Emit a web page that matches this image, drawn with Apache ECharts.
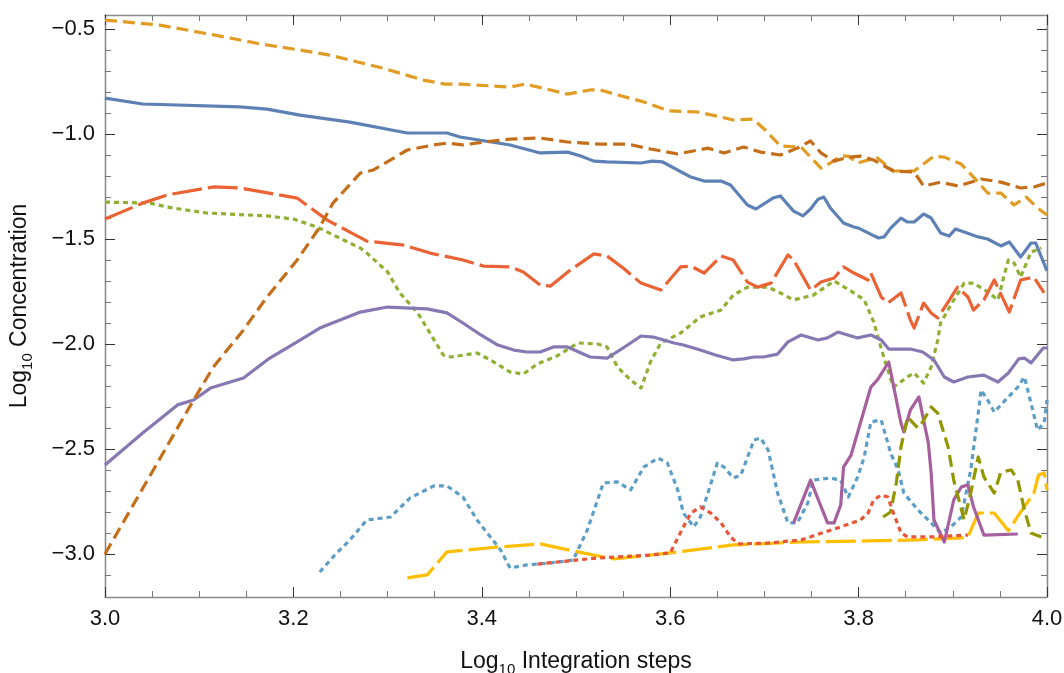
<!DOCTYPE html>
<html>
<head>
<meta charset="utf-8">
<title>Concentration vs integration steps</title>
<script src="https://cdn.jsdelivr.net/npm/echarts@6/dist/echarts.min.js"></script>
<style>
  html, body { margin: 0; padding: 0; background: #fff; }
  #chart { width: 1064px; height: 673px; }
</style>
</head>
<body>
<div id="chart"></div>
<script>
// log10(steps), log10(concentration) pairs for each species
const blueSolid = [[3.000,-0.829],[3.040,-0.857],[3.143,-0.871],[3.172,-0.881],[3.207,-0.910],[3.260,-0.943],[3.321,-0.995],[3.363,-0.995],[3.377,-1.014],[3.430,-1.052],[3.462,-1.090],[3.491,-1.086],[3.505,-1.105],[3.519,-1.129],[3.533,-1.133],[3.569,-1.138],[3.581,-1.129],[3.592,-1.133],[3.622,-1.205],[3.636,-1.224],[3.654,-1.224],[3.664,-1.243],[3.682,-1.338],[3.691,-1.357],[3.709,-1.305],[3.717,-1.295],[3.731,-1.367],[3.741,-1.390],[3.749,-1.357],[3.757,-1.310],[3.763,-1.300],[3.770,-1.352],[3.784,-1.424],[3.795,-1.443],[3.800,-1.448],[3.810,-1.471],[3.821,-1.495],[3.827,-1.490],[3.834,-1.448],[3.845,-1.400],[3.852,-1.419],[3.859,-1.419],[3.869,-1.381],[3.877,-1.400],[3.887,-1.471],[3.896,-1.486],[3.903,-1.452],[3.912,-1.467],[3.927,-1.490],[3.937,-1.500],[3.951,-1.533],[3.960,-1.514],[3.972,-1.586],[3.983,-1.519],[3.988,-1.519],[4.000,-1.652]];

const orangeDashed = [[3.000,-0.457],[3.058,-0.481],[3.117,-0.529],[3.165,-0.571],[3.207,-0.600],[3.239,-0.624],[3.260,-0.648],[3.295,-0.686],[3.313,-0.710],[3.338,-0.743],[3.361,-0.762],[3.377,-0.762],[3.430,-0.776],[3.446,-0.762],[3.473,-0.790],[3.491,-0.810],[3.515,-0.790],[3.526,-0.790],[3.544,-0.814],[3.569,-0.843],[3.590,-0.876],[3.600,-0.890],[3.629,-0.895],[3.654,-0.919],[3.667,-0.933],[3.688,-0.929],[3.701,-0.981],[3.717,-1.057],[3.739,-1.062],[3.760,-1.162],[3.770,-1.138],[3.781,-1.105],[3.789,-1.105],[3.799,-1.138],[3.810,-1.124],[3.820,-1.114],[3.837,-1.176],[3.859,-1.176],[3.880,-1.105],[3.891,-1.110],[3.909,-1.143],[3.922,-1.205],[3.937,-1.281],[3.951,-1.281],[3.965,-1.338],[3.978,-1.300],[3.990,-1.352],[4.000,-1.386]];

const greenDotted = [[3.000,-1.324],[3.048,-1.329],[3.066,-1.348],[3.108,-1.376],[3.172,-1.390],[3.200,-1.405],[3.225,-1.443],[3.271,-1.543],[3.278,-1.567],[3.300,-1.657],[3.313,-1.757],[3.332,-1.852],[3.345,-1.948],[3.359,-2.052],[3.367,-2.062],[3.395,-2.043],[3.409,-2.076],[3.430,-2.133],[3.444,-2.143],[3.459,-2.095],[3.480,-2.057],[3.502,-1.995],[3.523,-2.000],[3.533,-2.014],[3.544,-2.110],[3.558,-2.171],[3.569,-2.210],[3.579,-2.086],[3.590,-1.995],[3.611,-1.948],[3.632,-1.871],[3.654,-1.838],[3.667,-1.767],[3.682,-1.729],[3.704,-1.729],[3.717,-1.757],[3.731,-1.790],[3.752,-1.767],[3.774,-1.700],[3.792,-1.748],[3.806,-1.790],[3.816,-1.895],[3.827,-2.067],[3.837,-2.205],[3.852,-2.157],[3.859,-2.138],[3.869,-2.186],[3.877,-2.110],[3.884,-1.981],[3.887,-1.900],[3.898,-1.814],[3.912,-1.710],[3.922,-1.710],[3.937,-1.752],[3.948,-1.790],[3.954,-1.681],[3.959,-1.600],[3.965,-1.614],[3.972,-1.681],[3.983,-1.562],[3.994,-1.543]];

const redLongDash = [[3.000,-1.405],[3.040,-1.329],[3.066,-1.290],[3.115,-1.252],[3.143,-1.257],[3.204,-1.305],[3.236,-1.410],[3.260,-1.467],[3.278,-1.510],[3.317,-1.529],[3.345,-1.567],[3.380,-1.600],[3.402,-1.629],[3.430,-1.633],[3.444,-1.657],[3.462,-1.719],[3.473,-1.724],[3.494,-1.648],[3.519,-1.571],[3.533,-1.581],[3.550,-1.638],[3.569,-1.710],[3.590,-1.743],[3.611,-1.633],[3.622,-1.629],[3.636,-1.662],[3.654,-1.581],[3.667,-1.600],[3.682,-1.705],[3.693,-1.729],[3.707,-1.710],[3.725,-1.576],[3.731,-1.600],[3.749,-1.743],[3.760,-1.705],[3.774,-1.686],[3.784,-1.633],[3.795,-1.662],[3.810,-1.695],[3.813,-1.662],[3.824,-1.776],[3.831,-1.805],[3.845,-1.757],[3.855,-1.886],[3.859,-1.924],[3.869,-1.805],[3.877,-1.852],[3.884,-1.876],[3.895,-1.800],[3.905,-1.729],[3.916,-1.776],[3.922,-1.838],[3.933,-1.790],[3.944,-1.695],[3.960,-1.848],[3.972,-1.695],[3.986,-1.681],[3.997,-1.757]];

const purpleSolid = [[3.000,-2.576],[3.040,-2.424],[3.077,-2.290],[3.094,-2.267],[3.112,-2.210],[3.147,-2.162],[3.175,-2.067],[3.204,-1.990],[3.228,-1.924],[3.271,-1.848],[3.300,-1.824],[3.342,-1.833],[3.363,-1.852],[3.380,-1.900],[3.399,-1.957],[3.417,-2.005],[3.434,-2.029],[3.448,-2.038],[3.462,-2.038],[3.476,-2.014],[3.491,-2.014],[3.515,-2.062],[3.533,-2.067],[3.550,-2.019],[3.569,-1.962],[3.582,-1.967],[3.604,-1.995],[3.614,-2.005],[3.632,-2.029],[3.648,-2.052],[3.667,-2.076],[3.678,-2.071],[3.689,-2.062],[3.699,-2.062],[3.714,-2.048],[3.725,-1.990],[3.739,-1.957],[3.757,-1.981],[3.767,-1.971],[3.778,-1.943],[3.799,-1.971],[3.813,-1.957],[3.824,-1.981],[3.832,-2.024],[3.855,-2.024],[3.868,-2.038],[3.880,-2.076],[3.891,-2.157],[3.901,-2.181],[3.916,-2.157],[3.933,-2.148],[3.948,-2.181],[3.959,-2.138],[3.970,-2.071],[3.976,-2.067],[3.983,-2.090],[3.996,-2.019],[4.000,-2.019]];

const brownDashed = [[3.000,-3.000],[3.094,-2.267],[3.115,-2.110],[3.147,-1.933],[3.172,-1.776],[3.204,-1.600],[3.228,-1.443],[3.242,-1.329],[3.271,-1.186],[3.285,-1.171],[3.321,-1.076],[3.349,-1.052],[3.363,-1.043],[3.380,-1.052],[3.402,-1.038],[3.430,-1.024],[3.462,-1.019],[3.491,-1.038],[3.526,-1.048],[3.555,-1.048],[3.579,-1.071],[3.608,-1.095],[3.640,-1.067],[3.657,-1.090],[3.678,-1.062],[3.696,-1.086],[3.717,-1.100],[3.735,-1.067],[3.749,-1.033],[3.760,-1.090],[3.774,-1.129],[3.789,-1.110],[3.802,-1.105],[3.816,-1.124],[3.837,-1.176],[3.859,-1.181],[3.869,-1.248],[3.887,-1.229],[3.906,-1.248],[3.930,-1.214],[3.951,-1.229],[3.972,-1.257],[3.986,-1.252],[4.000,-1.233]];

const skyDotted = [[3.228,-3.086],[3.244,-3.005],[3.260,-2.933],[3.278,-2.838],[3.303,-2.824],[3.324,-2.733],[3.349,-2.676],[3.363,-2.676],[3.380,-2.729],[3.395,-2.838],[3.409,-2.919],[3.420,-2.981],[3.430,-3.067],[3.448,-3.052],[3.473,-3.043],[3.497,-3.029],[3.512,-2.886],[3.529,-2.662],[3.544,-2.657],[3.558,-2.695],[3.572,-2.586],[3.587,-2.543],[3.597,-2.567],[3.608,-2.695],[3.614,-2.805],[3.625,-2.871],[3.632,-2.824],[3.640,-2.710],[3.650,-2.567],[3.657,-2.586],[3.667,-2.638],[3.675,-2.624],[3.689,-2.457],[3.696,-2.448],[3.704,-2.505],[3.714,-2.710],[3.725,-2.852],[3.735,-2.852],[3.746,-2.757],[3.752,-2.648],[3.770,-2.638],[3.781,-2.648],[3.789,-2.729],[3.799,-2.633],[3.806,-2.538],[3.813,-2.371],[3.824,-2.362],[3.834,-2.519],[3.842,-2.600],[3.848,-2.710],[3.863,-2.790],[3.877,-2.852],[3.887,-2.900],[3.898,-2.871],[3.909,-2.824],[3.919,-2.600],[3.927,-2.329],[3.930,-2.219],[3.937,-2.267],[3.944,-2.324],[3.954,-2.276],[3.969,-2.205],[3.976,-2.157],[3.983,-2.281],[3.990,-2.410],[3.997,-2.376],[4.000,-2.267]];

const yellowLongDash = [[3.321,-3.114],[3.342,-3.100],[3.363,-2.990],[3.417,-2.967],[3.462,-2.952],[3.502,-2.990],[3.540,-3.024],[3.600,-2.995],[3.667,-2.957],[3.739,-2.943],[3.810,-2.938],[3.863,-2.933],[3.909,-2.924],[3.916,-2.919],[3.927,-2.805],[3.944,-2.805],[3.959,-2.890],[3.972,-2.800],[3.986,-2.710],[3.991,-2.624],[3.997,-2.614],[4.000,-2.695]];

const magentaSolid = [[3.731,-2.852],[3.749,-2.648],[3.767,-2.852],[3.774,-2.852],[3.781,-2.767],[3.784,-2.586],[3.792,-2.529],[3.813,-2.205],[3.820,-2.171],[3.832,-2.086],[3.845,-2.376],[3.848,-2.419],[3.855,-2.314],[3.864,-2.252],[3.869,-2.362],[3.874,-2.471],[3.877,-2.614],[3.880,-2.838],[3.891,-2.943],[3.901,-2.743],[3.909,-2.681],[3.916,-2.671],[3.922,-2.776],[3.933,-2.910],[3.969,-2.905]];

const oliveDashed = [[3.826,-2.824],[3.834,-2.800],[3.840,-2.662],[3.845,-2.490],[3.852,-2.348],[3.863,-2.400],[3.868,-2.371],[3.877,-2.300],[3.884,-2.329],[3.895,-2.490],[3.901,-2.648],[3.912,-2.838],[3.919,-2.710],[3.927,-2.538],[3.933,-2.633],[3.944,-2.710],[3.951,-2.610],[3.962,-2.600],[3.969,-2.648],[3.976,-2.790],[3.983,-2.900],[3.994,-2.919]];

const redDotted = [[3.459,-3.048],[3.523,-3.019],[3.579,-3.005],[3.600,-2.995],[3.614,-2.871],[3.622,-2.805],[3.632,-2.776],[3.643,-2.805],[3.654,-2.852],[3.664,-2.919],[3.672,-2.952],[3.704,-2.948],[3.739,-2.933],[3.781,-2.871],[3.802,-2.838],[3.810,-2.805],[3.816,-2.743],[3.824,-2.719],[3.831,-2.729],[3.837,-2.805],[3.845,-2.900],[3.852,-2.919],[3.880,-2.919],[3.916,-2.910]];

// axis ranges and tick positions
const xRange = [3.0, 4.0];
const yRange = [-3.205, -0.433];
const yMajorTicks = [-3.0, -2.5, -2.0, -1.5, -1.0, -0.5];
const yMinorTicks = [-3.1, -2.9, -2.8, -2.7, -2.6, -2.4, -2.3, -2.2, -2.1, -1.9, -1.8, -1.7, -1.6, -1.4, -1.3, -1.2, -1.1, -0.9, -0.8, -0.7, -0.6];

const DASHED = [12, 6];
const DOTTED = [5, 4];
const LONGDASH = [30, 6];

const seriesDefs = [
  { data: blueSolid,      color: '#5E81B5', type: 'solid' },
  { data: orangeDashed,   color: '#E19C24', type: DASHED },
  { data: greenDotted,    color: '#8FB032', type: DOTTED },
  { data: redLongDash,    color: '#EB6235', type: LONGDASH },
  { data: purpleSolid,    color: '#8778B3', type: 'solid' },
  { data: brownDashed,    color: '#C56E1A', type: DASHED },
  { data: skyDotted,      color: '#5D9EC7', type: DOTTED },
  { data: yellowLongDash, color: '#FFBF00', type: LONGDASH },
  { data: magentaSolid,   color: '#A5609D', type: 'solid' },
  { data: oliveDashed,    color: '#929600', type: DASHED },
  { data: redDotted,      color: '#E95536', type: DOTTED }
];

const FONT = 'Liberation Sans, Arial, sans-serif';
const FRAME = '#8a8a8a';
const MAJOR = '#333';
const MINOR = '#777';
const fmt = v => v.toFixed(1).replace('-', '\u2212');

const titleRich = {
  a: { fontSize: 23, color: '#111', fontFamily: FONT, lineHeight: 30, verticalAlign: 'middle' },
  s: { fontSize: 15, color: '#111', fontFamily: FONT, lineHeight: 30, verticalAlign: 'bottom' }
};

function yAxisBase(position, ticks, len, color, withLabels) {
  return {
    type: 'value', min: yRange[0], max: yRange[1], position: position,
    axisLine: { show: true, onZero: false, lineStyle: { color: FRAME, width: 1.3 } },
    axisTick: { show: true, inside: true, length: len, customValues: ticks, lineStyle: { color: color, width: 1 } },
    axisLabel: withLabels
      ? { show: true, customValues: ticks, formatter: fmt, fontSize: 22, color: '#111', margin: 10, fontFamily: FONT }
      : { show: false },
    splitLine: { show: false }
  };
}

const chart = echarts.init(document.getElementById('chart'), null, { renderer: 'canvas' });

const yAxes = [
  Object.assign(yAxisBase('left', yMajorTicks, 10, MAJOR, true), {
    name: '{a|Log}{s|10}{a| Concentration}',
    nameLocation: 'middle', nameGap: 70, nameRotate: 90,
    nameTextStyle: { rich: titleRich }
  }),
  yAxisBase('left', yMinorTicks, 6, MINOR, false),
  yAxisBase('right', yMajorTicks, 10, MAJOR, false),
  yAxisBase('right', yMinorTicks, 6, MINOR, false)
];

function xAxisBase(position, withLabels) {
  return {
    type: 'value', min: xRange[0], max: xRange[1], interval: 0.2, position: position,
    axisLine: { show: true, onZero: false, lineStyle: { color: FRAME, width: 1.3 } },
    axisTick: { show: true, inside: true, length: 10, lineStyle: { color: MAJOR, width: 1 } },
    minorTick: { show: true, splitNumber: 4, length: 6, lineStyle: { color: MINOR, width: 1 } },
    axisLabel: withLabels
      ? { show: true, formatter: v => v.toFixed(1), fontSize: 22, color: '#111', margin: 11, fontFamily: FONT, showMinLabel: true, showMaxLabel: true }
      : { show: false },
    splitLine: { show: false },
    minorSplitLine: { show: false }
  };
}

const xAxes = [
  Object.assign(xAxisBase('bottom', true), {
    name: '{a|Log}{s|10}{a| Integration steps}',
    nameLocation: 'middle', nameGap: 50,
    nameTextStyle: { rich: titleRich }
  }),
  xAxisBase('top', false)
];

chart.setOption({
  animation: false,
  backgroundColor: '#ffffff',
  grid: { left: 105, right: 17, top: 15, bottom: 76, containLabel: false, outerBoundsMode: 'none' },
  xAxis: xAxes,
  yAxis: yAxes,
  series: seriesDefs.map(d => ({
    type: 'line',
    xAxisIndex: 0,
    yAxisIndex: 0,
    data: d.data,
    showSymbol: false,
    symbol: 'none',
    clip: true,
    lineStyle: { color: d.color, width: 3.2, type: d.type, cap: 'butt', join: 'round' },
    emphasis: { disabled: true }
  }))
});
</script>
</body>
</html>
